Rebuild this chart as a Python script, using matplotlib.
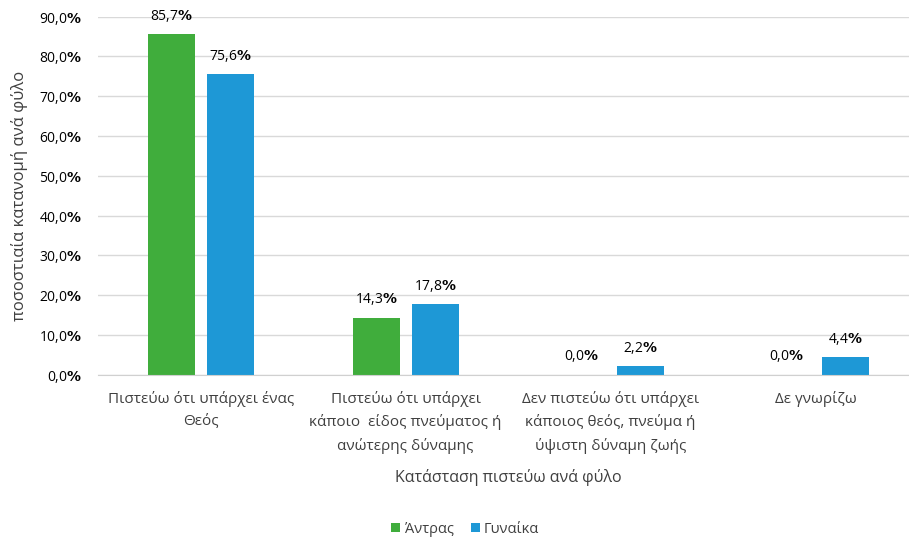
import numpy as np
import matplotlib
matplotlib.use('Agg')
import matplotlib.pyplot as plt

categories = [
    'Πιστεύω ότι υπάρχει ένας\nΘεός',
    'Πιστεύω ότι υπάρχει\nκάποιο  είδος πνεύματος ή\nανώτερης δύναμης',
    'Δεν πιστεύω ότι υπάρχει\nκάποιος θεός, πνεύμα ή\nύψιστη δύναμη ζωής',
    'Δε γνωρίζω',
]
men = [85.7, 14.3, 0.0, 0.0]
women = [75.6, 17.8, 2.2, 4.4]
series_names = ['Άντρας', 'Γυναίκα']
yticks = [0, 10, 20, 30, 40, 50, 60, 70, 80, 90]

GREEN = '#40AD3C'
BLUE = '#1E98D6'
TEXT = '#404040'

plt.rcParams['font.family'] = ['Open Sans', 'DejaVu Sans']
plt.rcParams['mathtext.fontset'] = 'custom'
plt.rcParams['mathtext.bf'] = 'DejaVu Sans:bold'


def pct(v):
    return f'{v:.1f}'.replace('.', ',') + r'$\mathbf{\%}$'


fig = plt.figure(figsize=(9.09, 5.39), dpi=100)
# plot area runs past the right edge, as in the cropped original
ax = fig.add_axes([0.108, 0.305, 0.902, 0.664])

x = np.arange(len(categories))
w = 0.23
off = 0.144
b1 = ax.bar(x - off, men, w, color=GREEN, label=series_names[0])
b2 = ax.bar(x + off, women, w, color=BLUE, label=series_names[1])

for bars, vals in ((b1, men), (b2, women)):
    for rect, v in zip(bars, vals):
        ax.text(rect.get_x() + rect.get_width() / 2, v + 4.6, pct(v),
                ha='center', va='center', fontsize=10, color='black')

ax.set_xlim(-0.5, len(categories) - 0.5)
ax.set_ylim(0, 90)
ax.set_yticks(yticks)
ax.set_yticklabels([pct(t) for t in yticks], fontsize=10, color='black')
ax.set_xticks(x)
ax.set_xticklabels(categories, fontsize=11, color=TEXT, linespacing=1.6)
ax.tick_params(axis='y', length=0, pad=12)
ax.tick_params(axis='x', length=0, pad=12)
ax.grid(axis='y', color='#D9D9D9', linewidth=1)
ax.set_axisbelow(True)
for s in ('top', 'right', 'left'):
    ax.spines[s].set_visible(False)
ax.spines['bottom'].set_color('#D0D0D0')

ax.set_ylabel('ποσοστιαία κατανομή ανά φύλο', fontsize=12, color=TEXT, labelpad=8)
ax.set_xlabel('Κατάσταση πιστεύω ανά φύλο', fontsize=11.5, color=TEXT, labelpad=11)

fig.legend(handles=[b1, b2], loc='center', bbox_to_anchor=(0.512, 0.018), ncol=2,
           frameon=False, fontsize=10.5, handlelength=0.6, handleheight=0.6,
           handletextpad=0.3, columnspacing=1.2, labelcolor=TEXT)

fig.savefig('out.png', dpi=100)
